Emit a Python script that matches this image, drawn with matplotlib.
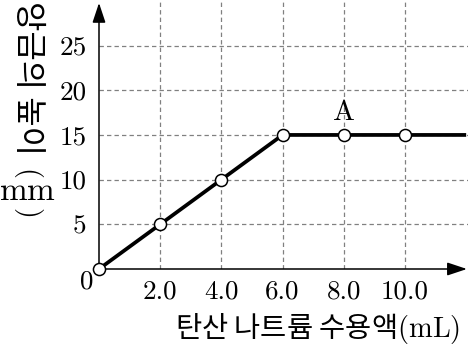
import matplotlib
matplotlib.use("Agg")
import matplotlib.pyplot as plt

# 데이터
volume = [0, 2.0, 4.0, 6.0, 8.0, 10.0]
height = [0, 5, 10, 15, 15, 15]
line_end_x = 12.0
line_end_y = 15
xticks = [2.0, 4.0, 6.0, 8.0, 10.0]
xtick_labels = ["2.0", "4.0", "6.0", "8.0", "10.0"]
yticks = [5, 10, 15, 20, 25]
ytick_labels = ["5", "10", "15", "20", "25"]

plt.rcParams['mathtext.fontset'] = 'cm'
plt.rcParams['font.family'] = ['Noto Sans CJK KR', 'DejaVu Sans']

W, H = 468, 349
fig = plt.figure(figsize=(W / 100, H / 100), dpi=100)
ax = fig.add_axes([99 / W, 80 / H, 1 - 99 / W, 269 / H])
ax.set_xlim(0, 12.06)
ax.set_ylim(0, 30.1)

for s in ax.spines.values():
    s.set_visible(False)


def px(x, y):
    # 픽셀 좌표 -> figure 좌표
    return x / W, 1 - y / H


# 격자
ax.set_xticks(xticks)
ax.set_yticks(yticks)
ax.grid(True, color='#808080', linestyle=(0, (3.5, 2.5)), linewidth=0.9)
ax.tick_params(axis='y', length=0, pad=9)
ax.tick_params(axis='x', length=0, pad=8)
ax.set_xticklabels(xtick_labels, family='cmr10', fontsize=19.5)
ax.set_yticklabels(ytick_labels, family='cmr10', fontsize=19.5)

# 축 화살표
arrow = dict(arrowstyle='-|>,head_length=0.75,head_width=0.25', color='black',
             lw=1.1, mutation_scale=16, shrinkA=0, shrinkB=0)
ax.annotate('', xy=(0.997, 0), xycoords='axes fraction', xytext=(0, 0),
            arrowprops=arrow)
ax.annotate('', xy=(0, 0.989), xycoords='axes fraction', xytext=(0, 0),
            arrowprops=arrow)

# 그래프
ax.plot(volume + [line_end_x], height + [line_end_y], color='black', lw=2.7,
        solid_capstyle='butt', zorder=3, clip_on=False)
ax.plot(volume, height, 'o', color='black', mfc='white', mec='black',
        ms=8.7, mew=1.1, zorder=4, clip_on=False)

ax.text(8.0, 17.5, 'A', family='cmr10', fontsize=21, ha='center', va='center')
ax.text(-0.39, -1.45, '0', family='cmr10', fontsize=19.5, ha='center', va='center')

# x축 제목
fig.text(*px(318, 328), '탄산 나트륨 수용액$\\mathrm{(mL)}$', fontsize=20.5,
         ha='center', va='center')

# y축 제목 (세로쓰기: 한글은 회전, mm은 똑바로)
fig.text(*px(28, 1), '앙금의 높이', fontsize=23, rotation=-90,
         ha='center', va='top')
fig.text(*px(28, 172), '$\\mathrm{(}$', fontsize=20, rotation=-90,
         ha='center', va='center')
fig.text(*px(27, 200), '$\\mathrm{mm}$', fontsize=24, ha='center', va='baseline')
fig.text(*px(28, 211), '$\\mathrm{)}$', fontsize=20, rotation=-90,
         ha='center', va='center')

fig.savefig('out.png', dpi=100)
